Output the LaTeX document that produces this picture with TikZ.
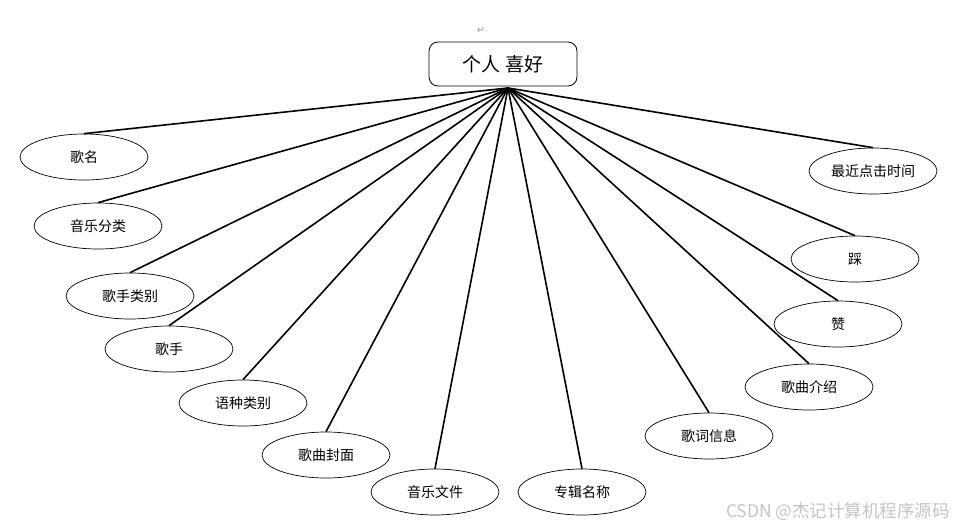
\documentclass[tikz,border=0pt]{standalone}
\usepackage{fontspec}
\setmainfont{Noto Sans CJK SC}
\newfontfamily\symfont{DejaVu Sans}
\usetikzlibrary{shapes.geometric}
\definecolor{retgray}{HTML}{9A9A9A}
\definecolor{wmgray}{HTML}{C4C4C4}
\begin{document}
\begin{tikzpicture}[x=1pt,y=-1pt,
 attr/.style={draw=black,line width=.7pt,ellipse,minimum width=128pt,
   minimum height=46pt,inner sep=0pt,font=\fontsize{14}{16}\selectfont},
 link/.style={line width=1.6pt}]
\path[use as bounding box] (0,0) rectangle (956,530);
% entity box and the point where every link starts
\node[draw,line width=.8pt,rounded corners=9pt,minimum width=148pt,
 minimum height=44pt,font=\fontsize{19}{22}\selectfont] (pref) at (503,64) {个人 喜好};
\coordinate (hub) at (508,88);
\node[text=retgray,font=\symfont\fontsize{10}{11}\selectfont] (ret) at (481,30) {↵};
% attributes
\foreach \nm/\cx/\cy/\txt in {
  name/84/157/歌名, cat/98/226/音乐分类, stype/130/296/歌手类别,
  singer/169/349/歌手, lang/243/403/语种类别, cover/326/455/歌曲封面,
  file/435/492/音乐文件, album/582/492/专辑名称, lyric/709/436/歌词信息,
  intro/809/387/歌曲介绍, like/838/324/赞, dislike/855/259/踩,
  recent/873/171/最近点击时间}{
  \node[attr] (\nm) at (\cx,\cy) {\txt};
  \draw[link] (hub) -- (\nm.north);
}
\node[text=wmgray,anchor=east,inner sep=0pt,font=\fontsize{17.5}{20}\selectfont] (wm) at (950,512)
 {CSDN @杰记计算机程序源码};
\end{tikzpicture}
\end{document}
